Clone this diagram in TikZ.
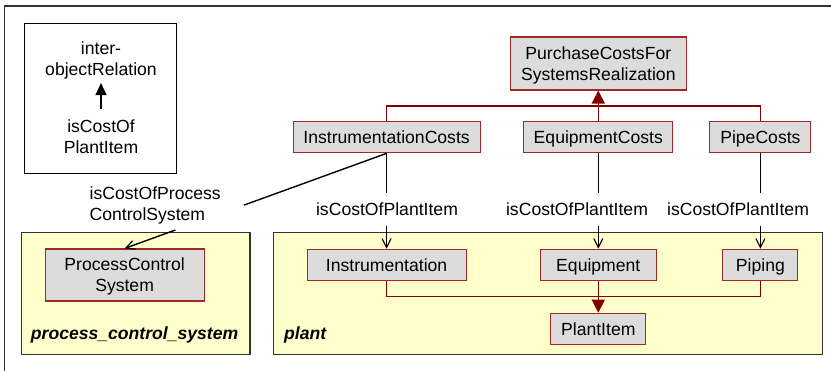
\documentclass[tikz,border=0pt]{standalone}
\usepackage{fontspec}
\setmainfont{Liberation Sans}
\usetikzlibrary{arrows.meta,calc}
\definecolor{boxfill}{RGB}{220,220,220}
\definecolor{boxline}{RGB}{160,40,40}
\definecolor{inhred}{RGB}{128,0,0}
\definecolor{pkgfill}{RGB}{255,255,204}
\definecolor{pkgline}{RGB}{51,51,51}
\begin{document}
\begin{tikzpicture}[x=1pt,y=-1pt,
  every node/.style={font=\fontsize{17.6pt}{21pt}\selectfont, inner sep=0pt},
  box/.style={draw=boxline, fill=boxfill, line width=1.1pt, text depth=0pt, align=center},
  cls/.style={box, text height=12.6pt},
  pkg/.style={draw=pkgline, fill=pkgfill, line width=1.2pt, anchor=north west},
  pkgname/.style={anchor=base west, font=\fontsize{17.6pt}{21pt}\selectfont\bfseries\itshape},
  inh/.style={draw=inhred, line width=1.5pt},
  inharrow/.style={inh, -{Triangle[length=13pt,width=13pt]}},
  rel/.style={line width=1.4pt, black},
  relarrow/.style={rel, -{Straight Barb[length=9pt,width=9pt,line width=1.1pt]}},
  lbl/.style={text height=12.9pt, text depth=0pt, minimum height=32pt},
]
\useasboundingbox (0,0) rectangle (831,371);
% outer frame
\draw[line width=1.3pt, pkgline] (4.5,371) -- (4.5,6) -- (831,6);

% legend
\node[draw, line width=1.2pt, anchor=north west, minimum width=152pt, minimum height=150pt] (legend) at (24,23) {};
\node[align=center, text depth=0pt] (leg1) at (101,59) {inter-\\objectRelation};
\node[align=center, text depth=0pt] (leg2) at (101,136.6) {isCostOf\\PlantItem};
\draw[line width=1.3pt, -{Triangle[length=12pt,width=11pt]}, shorten <=10.7pt, shorten >=7pt] (leg2.north) -- (leg1.south);

% packages
\node[pkg, minimum width=228.6pt, minimum height=122pt] (pcspkg) at (20.7,232) {};
\node[pkgname] (pcsname) at (30.7,340) {process\_control\_system};
\node[pkg, minimum width=549pt, minimum height=122pt] (plantpkg) at (273,232) {};
\node[pkgname] (plantname) at (284,340) {plant};

% classes
\node[box, minimum width=176pt, minimum height=53pt] (pc) at (598.3,63.5) {PurchaseCostsFor\\SystemsRealization};
\node[cls, minimum width=187pt, minimum height=31pt] (ic) at (386.6,137.3) {InstrumentationCosts};
\node[cls, minimum width=149pt, minimum height=31pt] (ec) at (598.3,137.3) {EquipmentCosts};
\node[cls, minimum width=101pt, minimum height=31pt] (pp) at (760.4,137.3) {PipeCosts};
\node[cls, minimum width=159pt, minimum height=31pt] (inst) at (386.6,264.8) {Instrumentation};
\node[cls, minimum width=116pt, minimum height=31pt] (eq) at (598.3,264.8) {Equipment};
\node[cls, minimum width=75pt, minimum height=31pt] (pip) at (760.4,264.8) {Piping};
\node[cls, minimum width=95pt, minimum height=31pt] (pi) at (598.3,328.8) {PlantItem};
\node[box, minimum width=159pt, minimum height=52pt] (pcs) at (124.6,275) {ProcessControl\\System};

% inheritance
\coordinate (jt) at (598.3,106);
\draw[inh] (ic.north) |- (jt) -| (pp.north);
\draw[inharrow] (ec.north) -- (pc.south);
\coordinate (jb) at (598.3,296.7);
\draw[inh] (inst.south) |- (jb) -| (pip.south);
\draw[inharrow] (eq.south) -- (pi.north);

% relations
\node[lbl] (l1) at (387,209.5) {isCostOfPlantItem};
\node[lbl] (l2) at (577,209.5) {isCostOfPlantItem};
\node[lbl] (l3) at (738,209.5) {isCostOfPlantItem};
\draw[rel] (ic.south) -- (ic.south |- l1.north);
\draw[relarrow] (inst.north |- l1.south) -- (inst.north);
\draw[rel] (ec.south) -- (ec.south |- l2.north);
\draw[relarrow] (eq.north |- l2.south) -- (eq.north);
\draw[rel] (pp.south) -- (pp.south |- l3.north);
\draw[relarrow] (pip.north |- l3.south) -- (pip.north);

\node[align=left, anchor=north west] (l0) at (89.5,186.2) {isCostOfProcess\\ControlSystem};
\draw[rel] (ic.south) -- ($(ic.south)!0.545!(pcs.north)$);
\draw[relarrow] ($(ic.south)!0.806!(pcs.north)$) -- (pcs.north);
\end{tikzpicture}
\end{document}
